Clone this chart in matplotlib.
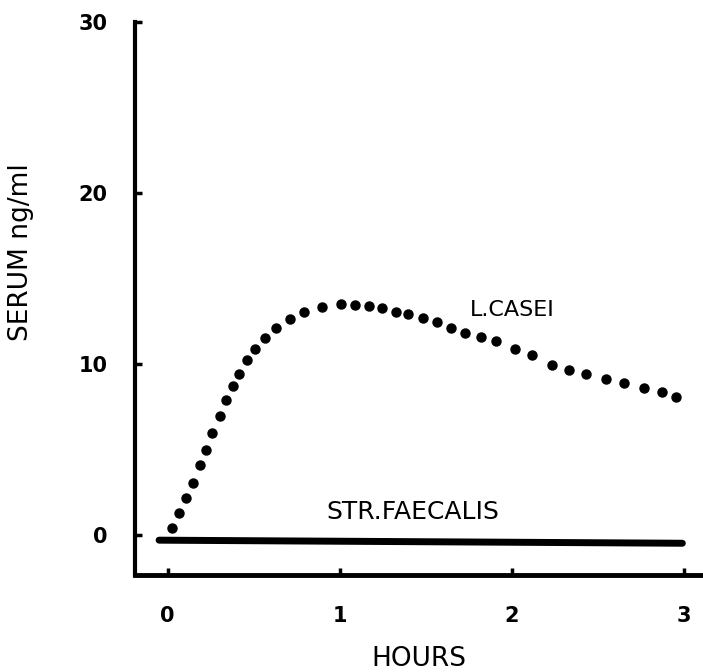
"""Serum level after oral dose: L. casei vs Str. faecalis (scanned figure redraw)."""
import matplotlib
matplotlib.use("Agg")
import matplotlib.pyplot as plt

# L. CASEI dotted curve (hours, ng/ml)
casei_hours = [0.025, 0.064, 0.105, 0.147, 0.186, 0.225, 0.260, 0.302, 0.337, 0.380,
               0.415, 0.458, 0.510, 0.568, 0.632, 0.709, 0.792, 0.894, 1.009, 1.087,
               1.171, 1.246, 1.326, 1.397, 1.481, 1.562, 1.645, 1.727, 1.820, 1.905,
               2.017, 2.118, 2.231, 2.333, 2.430, 2.547, 2.653, 2.770, 2.874, 2.953]
casei_serum = [0.43, 1.30, 2.20, 3.08, 4.08, 4.97, 5.98, 6.96, 7.89, 8.73,
               9.42, 10.23, 10.89, 11.52, 12.12, 12.65, 13.06, 13.32, 13.51, 13.47,
               13.39, 13.29, 13.08, 12.94, 12.73, 12.46, 12.12, 11.85, 11.60, 11.33,
               10.89, 10.53, 9.98, 9.69, 9.42, 9.14, 8.91, 8.61, 8.36, 8.09]

# STR. FAECALIS flat line
faecalis_hours = [-0.05, 2.99]
faecalis_serum = [-0.29, -0.47]

x_ticks = [0, 1, 2, 3]
y_ticks = [0, 10, 20, 30]

plt.rcParams.update({"font.family": "DejaVu Sans"})

fig = plt.figure(figsize=(7.03, 6.72), dpi=100)
ax = fig.add_axes([0.192, 0.144, 0.808, 0.823])

ax.plot(casei_hours, casei_serum, "o", color="black", markersize=6.5)
ax.plot(faecalis_hours, faecalis_serum, "-", color="black", lw=5,
        solid_capstyle="round")

ax.text(1.756, 13.16, "L.CASEI", fontsize=16, va="center", ha="left")
ax.text(0.924, 1.35, "STR.FAECALIS", fontsize=18, va="center", ha="left")

ax.set_xlim(-0.19, 3.11)
ax.set_ylim(-2.34, 30.0)
ax.set_xticks(x_ticks)
ax.set_yticks(y_ticks)
ax.tick_params(axis="both", direction="in", length=5, width=2.5, labelsize=15)
ax.tick_params(axis="x", pad=22)
ax.tick_params(axis="y", pad=20)
for lbl in ax.get_xticklabels() + ax.get_yticklabels():
    lbl.set_fontweight("bold")

for side in ["top", "right"]:
    ax.spines[side].set_visible(False)
ax.spines["left"].set_linewidth(3)
ax.spines["bottom"].set_linewidth(3.5)

ax.set_xlabel("HOURS", fontsize=19)
ax.xaxis.set_label_coords(0.5, -0.128)
ax.set_ylabel("SERUM ng/ml", fontsize=19)
ax.yaxis.set_label_coords(-0.178, 0.584)

fig.savefig("out.png", dpi=100)
plt.close()
